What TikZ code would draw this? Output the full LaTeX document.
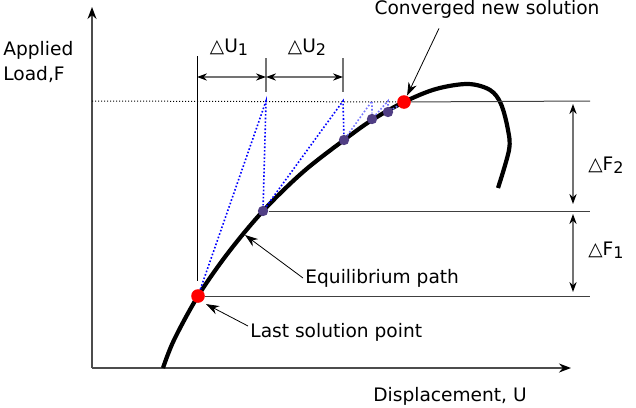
\documentclass[tikz,border=0pt]{standalone}
\usepackage{fontspec}
\setmainfont{DejaVu Sans}
\usetikzlibrary{arrows.meta,positioning}
\definecolor{iterpurple}{RGB}{80,62,132}
\newcommand{\lowidx}[1]{\raisebox{-1.6pt}{\fontsize{8}{8}\selectfont #1}}
\begin{document}
\begin{tikzpicture}[x=0.5pt,y=-0.5pt,>=Stealth,
 every node/.style={font=\fontsize{9.3}{12.5}\selectfont,inner sep=1pt},
 axis/.style={draw=black!70,line width=0.75pt,-{Stealth[black,length=6pt,width=4.5pt]}},
 soln/.style={circle,fill=red,inner sep=0pt,minimum size=6.8pt},
 iter/.style={circle,fill=iterpurple,inner sep=0pt,minimum size=5.2pt},
 pred/.style={blue,densely dotted,line width=0.8pt},
 lvl/.style={black!75,line width=0.5pt},
 dim/.style={black!55,line width=0.6pt,{Stealth[black,length=5pt,width=3.6pt]}-{Stealth[black,length=5pt,width=3.6pt]}},
 pointer/.style={-{Stealth[length=6.5pt,width=4.5pt]},line width=0.4pt}]
\useasboundingbox (0,0) rectangle (636,407);
\coordinate (orig) at (92,368);
\coordinate (xtip) at (571,368);
\coordinate (ytip) at (92,7);
\draw[axis] (orig) -- (xtip);
\draw[axis] (orig) -- (ytip);
\node[align=left,anchor=west] (ylab) at (1,62) {Applied\\Load,F};
\node (xlab) at (450,396) {Displacement, U};
\draw[line width=2.1pt] plot[smooth,tension=0.55] coordinates {(163,368) (174,340) (198,296) (228,253)
 (263,211) (303,172) (344,140) (372,120) (404,102) (436,89) (468,84) (490,90) (501,104) (508,130)
 (509,150) (498,188)};
\coordinate (t1) at (266,101);
\coordinate (t2) at (343,101);
\coordinate (t3) at (372,101);
\coordinate (t4) at (388,101);
\coordinate (lvlR) at (590,101);
\coordinate (midR) at (590,211);
\coordinate (lowR) at (590,296);
\coordinate (eqpt) at (245,235);
\node[soln] (last) at (198,296) {};
\node[iter] (p1) at (263,211) {};
\node[iter] (p2) at (344,140) {};
\node[iter] (p3) at (372,119) {};
\node[iter] (p4) at (388,112) {};
\node[soln] (conv) at (404,102) {};
\draw[black,line width=0.5pt,densely dotted] (orig |- t1) -- (conv);
\draw[lvl] (conv) -- (lvlR);
\draw[lvl] (p1) -- (midR);
\draw[lvl] (last) -- (lowR);
\draw[pred] (last) -- (t1) -- (p1) -- (t2) -- (p2);
\draw[pred,blue!55] (p2) -- (t3) -- (p3) -- (t4) -- (p4) -- (conv);
\draw[black,line width=0.5pt] (197,56) -- (197,281);
\draw[black!55,line width=0.6pt] (266,58) -- (266,92) (343,58) -- (343,92);
\coordinate (u0) at (197,77);
\coordinate (u1) at (266,77);
\coordinate (u2) at (343,77);
\draw[dim] (u0) -- (u1);
\draw[dim] (u1) -- (u2);
\node (du1) at (229,47) {△U\lowidx{1}};
\node (du2) at (307,47) {△U\lowidx{2}};
\coordinate (f0) at (573,104);
\coordinate (f1) at (573,204);
\coordinate (f2) at (573,214);
\coordinate (f3) at (573,292);
\draw[dim] (f0) -- (f1);
\draw[dim] (f2) -- (f3);
\node[anchor=west] (df2) at (586,165) {△F\lowidx{2}};
\node[anchor=west] (df1) at (586,250) {△F\lowidx{1}};
\node (convlab) at (487,9) {Converged new solution};
\node[anchor=west] (eqlab) at (303,278) {Equilibrium path};
\node[anchor=west] (lastlab) at (248,332) {Last solution point};
\draw[pointer] ([xshift=-24pt,yshift=-4pt]convlab.south) -- (conv);
\draw[pointer] (eqlab.west) -- (eqpt);
\draw[pointer] ([yshift=3pt]lastlab.west) -- ([xshift=1.5pt,yshift=-1.5pt]last.south east);
\end{tikzpicture}
\end{document}
